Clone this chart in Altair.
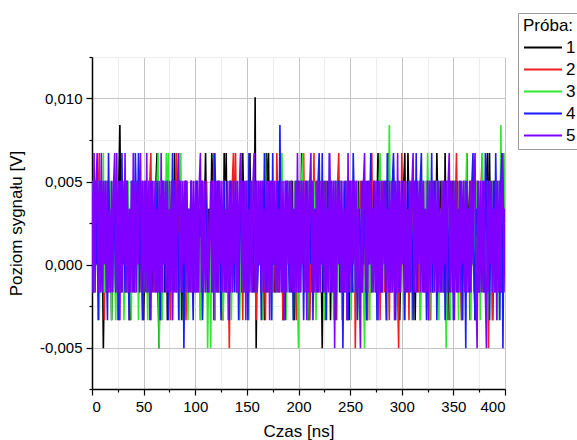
import altair as alt
import pandas as pd

# Digitiser step (one quantisation level) in volts and sampling interval in ns
LSB_V = 0.00168
SAMPLE_NS = 1.0

probe_names = ["1", "2", "3", "4", "5"]
probe_colors = ["#000000", "#f21d1d", "#2ee82e", "#1a1aff", "#8000ff"]

# Recorded samples of each probe, in digitiser levels (20 samples per row)
levels_1 = [
    1, 3, -1, 2, 0, 3, 1, -1, 2, 0, 1, -3, 0, 2, -1, 3, 1, 0, 2, -2,
    0, 3, 1, -1, 2, 0, 3, 5, 1, -1, 2, 0, 1, 3, -1, 2, 0, -2, 1, 3,
    0, 2, -1, 1, 3, 0, -1, 2, 1, 3, -2, 0, 2, -1, 1, 3, 0, 2, -1, 1,
    2, 0, 3, 4, -1, -3, 1, 2, 0, 3, -1, 1, 2, -2, 0, 3, 1, -1, 2, 0,
    4, 1, -1, 2, 0, 3, 1, -2, 2, 0, 1, 3, -1, 0, 2, 1, 3, -1, 0, 2,
    1, -1, 3, 0, 2, 1, -1, 3, 0, 2, 4, 1, 0, 2, -1, 1, 4, 3, 0, -2,
    2, 0, 3, -1, 1, 2, 0, -2, 4, 1, 4, -1, 2, 0, 3, 1, -1, 2, 0, 3,
    -1, 1, 2, 0, 3, -1, 4, 2, 0, 1, 3, -1, 2, 4, 0, 1, 3, -1, 6, -3,
    1, 2, 0, 3, -1, 2, 1, -2, 0, 4, 2, 4, -1, 1, 3, 0, 2, -1, 1, 3,
    0, -1, 2, 1, 3, -2, 0, 2, -1, 3, 1, 0, 2, -1, 3, 1, -2, 0, 2, 1,
    3, -1, 0, 4, 2, 1, -1, 3, 0, 2, -2, 1, 3, 0, -1, 2, 1, 3, 0, -1,
    2, 1, 0, -3, 2, 3, 1, -1, 0, 2, 3, -2, 1, 0, 2, -1, 3, 1, 0, 2,
    -1, 3, 1, 0, 2, -1, 1, 3, 0, -2, 2, 1, 3, -1, 0, 2, 1, -1, 3, 0,
    2, 1, -1, 3, 0, 2, -2, 1, 3, 0, -1, 2, 1, 3, 0, -1, 2, 4, 1, 0,
    3, -1, 2, 0, 1, 3, -2, 4, 0, 2, -1, 1, 3, 0, 2, -1, 1, 3, -2, 0,
    2, 1, 3, 4, -1, 0, 4, 2, 1, -1, 3, 0, 2, -2, 1, 3, 0, -1, 2, 1,
    0, 3, -1, 2, 1, 0, -2, 3, 1, 2, -1, 0, 3, 1, 4, 2, -1, 0, 3, 1,
    2, -1, 4, 0, 3, 1, -2, 2, 0, 3, -1, 1, 2, 0, 3, -1, 2, 1, -2, 0,
    3, 1, -1, 4, 2, 0, 3, -1, 1, 2, 0, -2, 3, 1, -1, 2, 0, 3, 1, -1,
    2, 0, 3, 4, -1, 4, 1, 2, -2, 0, 3, 1, -1, 2, 0, 3, 1, -1, 2, 0,
    1,
]

levels_2 = [
    2, 0, -1, 3, 1, 0, 2, 4, -1, 1, 3, 0, -2, 2, 1, -1, 3, 0, 2, 1,
    -1, 2, 0, 3, 1, -2, 2, 0, -1, 3, 1, 2, 0, -1, 3, 1, -2, 0, 2, 1,
    3, 0, -1, 2, 1, 3, -1, 0, 2, -2, 1, 3, 0, 2, -1, 1, 3, 4, 0, 2,
    -1, 1, 3, 0, 2, -1, 1, -2, 3, 0, 2, 1, -1, 3, 0, 2, -2, 1, 3, 0,
    2, -1, 4, 1, 0, 3, -1, 2, 0, 1, 3, -2, 0, 2, 1, -1, 3, 0, 2, 1,
    -1, 3, 0, 2, 1, -2, 3, 0, 1, 2, -1, 3, 1, 0, 2, -1, 3, 0, 4, 1,
    2, 0, -1, 3, 1, 2, -2, 0, 3, 1, -1, 2, 0, -3, 1, 2, 3, 4, 0, 4,
    1, -1, 2, 0, 3, 1, -2, 2, 0, 3, -1, 1, 2, 0, 3, -1, 1, 2, 0, -2,
    3, 1, 0, 2, -1, 3, 1, 0, -2, 2, 3, -1, 1, 0, 2, 3, -1, 1, 0, 4,
    2, -1, 1, 3, 0, -2, 2, 1, 3, -1, 0, 2, 1, 3, 0, -1, 2, 1, -2, 3,
    0, 2, -1, 1, 3, 4, 0, 2, -1, 1, 3, -2, 0, 2, 1, 4, -1, 3, 0, 2,
    1, -1, 3, 0, 2, 1, -2, 3, 0, 1, 2, -1, 3, 0, 2, 1, -1, -2, 3, 4,
    0, 2, 1, -1, 3, 0, 2, -2, 1, 3, 0, -1, 2, 1, 3, -3, 0, 2, -1, 1,
    3, 0, 2, -1, 1, 3, 0, -2, 2, 1, -1, 4, 0, 2, 3, 1, -1, 0, 2, -2,
    1, 3, 0, -1, 2, 1, 3, 0, -2, 2, 1, -1, 3, 0, 2, 1, -1, -3, 2, 0,
    4, 1, -1, 3, 0, 2, 1, -2, 3, 0, 2, -1, 1, 3, 0, 2, -1, 1, -2, 3,
    0, 2, 1, -1, 3, 0, 2, 1, -2, 3, 0, -1, 2, 1, 3, 0, -1, 2, 1, 3,
    -1, 0, 2, 1, -2, 3, 0, 2, 1, -1, 3, 0, 2, 4, 1, -1, 3, 0, -2, 2,
    1, 3, 0, -1, 2, 1, -2, 3, 0, 2, -1, 1, 3, 0, 2, -1, 1, 3, 4, 0,
    2, -1, 1, 3, -3, 0, 2, 1, -2, 3, 0, -1, 2, 1, 3, 0, -1, 2, 1, 3,
    0,
]

levels_3 = [
    0, 3, 1, -1, 2, 0, 3, -2, 1, 2, 0, 4, -1, 3, 1, 0, 2, -1, 3, -2,
    1, 2, 0, -2, 3, 1, -1, 2, 0, 3, 1, -2, 0, 2, -1, 3, 1, 0, -2, 2,
    1, 3, -1, 0, 2, -2, 1, 3, 0, 2, -1, 1, 3, 0, -2, 2, 1, -1, 3, 0,
    2, 1, -1, 3, 4, -3, 1, 2, -2, 0, 3, 1, 4, 2, 4, 0, -1, 2, -2, 1,
    3, 0, 2, -1, 1, -2, 4, 0, 2, 1, -1, 3, 0, -2, 2, 1, 3, -1, 0, 2,
    1, 3, -1, 0, 2, -2, 1, 3, 0, 2, -1, 1, -3, 0, 1, -3, 2, 3, 0, -2,
    2, 1, 0, 3, -1, 2, 1, -2, 0, 3, 1, -1, 2, 0, 3, -2, 1, 2, 0, 3,
    -1, 1, 2, -2, 0, 3, 1, -1, 2, 0, 3, 1, -2, 2, 0, -1, 3, 1, 0, 2,
    -1, 3, 0, 2, 1, -2, 3, 0, 4, 1, -1, 2, 0, 3, -2, 1, 2, 0, 3, -1,
    1, 2, 0, 3, 4, -1, 1, 2, -2, 0, 3, 1, -1, 2, 0, -2, 3, 1, 0, -1,
    -3, 2, 1, 3, 4, 0, -1, 2, 1, -2, 3, 0, 2, 1, -1, 3, 0, -2, 2, 1,
    3, 0, -1, 2, 1, -2, 3, 0, 2, 1, -1, 3, 0, 2, -2, 1, 3, 0, -1, 2,
    1, 3, -2, 0, 2, 1, -1, 3, 0, 2, 1, -2, 3, 0, -1, 2, 1, 3, 0, -2,
    2, 1, 0, -1, -3, 2, 1, 3, 0, -2, 2, 1, -1, 3, 0, 2, 1, -2, 3, 4,
    0, 2, -1, 1, 3, 0, -2, 2, 5, 1, -1, 3, 0, 2, -2, 1, 3, 0, -1, 2,
    1, 3, -2, 0, 2, 1, -1, 3, 0, 2, -2, 1, 3, 0, -1, 2, 1, 3, -2, 0,
    2, 1, -1, 3, 0, 4, 2, -2, 1, 3, 0, -1, 2, 1, 3, 0, -2, 2, 1, -1,
    3, 0, 2, -3, 1, 3, 0, -2, 2, 1, -1, 3, 0, 2, 1, -2, 3, 0, -1, 2,
    1, 3, 0, 4, -1, 2, 1, -2, 3, 0, 2, -1, 1, 3, 0, 2, -2, 1, 4, 0,
    2, -1, 1, 3, 0, -2, 2, 1, 3, -1, 0, 2, 1, -2, 3, 0, 5, 1, -1, 2,
    4,
]

levels_4 = [
    2, -1, 1, 3, 0, 2, -2, 1, 3, 0, -1, 2, 1, 3, 0, -2, 4, 1, -1, 2,
    0, 3, 1, -1, 2, 0, -2, 3, 1, 4, 0, 2, -1, 1, 3, 0, -2, 2, 1, 3,
    -1, 0, 4, 2, 1, 4, -1, 3, 0, -2, 2, 1, 3, 0, -1, 2, 1, -2, 3, 0,
    1, 2, -1, 3, 0, 2, -2, 1, 3, 0, 2, -1, 1, 3, -2, 0, 2, 1, 4, -1,
    3, 0, 2, 1, -2, 3, 0, -1, 2, -3, 1, 3, 0, 2, -1, 1, 3, 0, -2, 2,
    1, 3, 0, -1, 2, 1, 3, -2, 0, 2, 3, 1, -1, 0, 2, 1, 3, -1, 0, 4,
    2, -1, 1, 3, 0, -2, 2, 1, 3, 0, -1, 2, 1, -2, 3, 0, 2, 1, -1, 3,
    0, 2, -2, 1, 4, 0, 3, -1, 2, 1, 0, -2, 4, 1, 3, 0, -1, 2, 1, 3,
    -1, 0, 2, 1, -2, 3, 0, 4, 1, -1, 2, 0, 3, 1, -2, 4, 0, 2, -1, 1,
    3, 0, 5, 1, -1, 2, 0, -2, 3, 1, 2, -1, 0, 3, 1, -2, 2, 0, 3, 1,
    -1, 2, 0, 3, 1, -2, 2, 0, 3, -1, 1, 2, 0, 3, -2, 1, 2, 0, -1, 3,
    4, 1, 0, 4, -1, 2, 1, -2, 3, 0, 4, 2, -1, 1, 3, 0, -2, 2, 1, 3,
    0, -1, 2, -3, 1, 3, 0, 2, -2, 1, 3, 0, -1, 4, 2, 1, 3, -2, 0, 2,
    1, -1, 3, 0, 2, 1, -2, 3, 0, 2, 4, -1, 1, 3, 0, 2, -2, 1, 3, 0,
    -1, 2, 1, 3, 0, -2, 4, 1, 2, -1, 0, 3, 4, 2, -2, 1, 3, 0, -1, 2,
    1, 3, 0, -2, 2, 1, -1, 3, 0, 2, 1, -2, 3, 0, 4, -1, 2, 1, 3, 4,
    0, -1, 2, 1, -2, 3, 0, 2, 1, 4, -1, 3, 0, 2, -2, 1, 3, 0, -1, 2,
    1, 3, -2, 0, 2, 1, -1, 3, 0, 2, -2, 1, 3, 0, -1, 2, 1, 3, 0, -2,
    2, 1, -3, 3, 0, 2, -1, 1, 3, 4, 0, -2, 2, 1, 3, -1, 0, 2, 1, 3,
    -1, 4, 2, 0, 3, -2, 1, 2, 0, 3, -1, 4, 1, 0, 2, -2, 3, 4, -3, 2,
    1,
]

levels_5 = [
    3, -1, 4, -1, 3, 4, -1, 3, -1, 4, -1, 3, 0, 3, -1, 3, -1, 2, -1, 3,
    -1, 3, 4, -1, 4, -1, 3, -2, 3, -1, 3, 0, 4, -1, 3, -1, 2, -1, 3, -1,
    4, -1, 3, -1, 3, 0, 3, 4, -1, 3, -1, 3, -1, 4, -1, 3, -2, 3, -1, 3,
    -1, 3, -1, 2, -1, 3, -1, 4, -1, 3, 0, 3, -1, 3, -1, 2, -1, 3, -2, 3,
    -1, 3, -1, 3, 4, -1, 3, -1, 3, 0, 3, -1, 3, -1, 2, -1, 3, -1, 3, -1,
    3, -1, 3, -1, 3, 4, -1, 3, -1, 3, -1, 0, 2, -1, 1, 3, -1, 3, -2, 3,
    -1, 3, -1, 3, 0, 3, -1, 3, -1, 2, -1, 3, -2, 3, -1, 3, -1, 3, 0, 3,
    -1, 3, -1, 3, 4, -1, 3, -1, 3, -2, 3, -1, 2, -1, 3, -1, 3, 4, -1, 3,
    -1, 3, 0, 3, -1, 3, -1, 2, -1, 3, -1, 3, -2, 3, -1, 3, 0, 3, -1, 3,
    -1, 2, -1, 3, -1, 3, -2, 3, -1, 3, 0, 3, -1, 3, -1, 2, -1, 3, -1, 4,
    -1, 3, -1, 3, 0, 3, -1, 3, -2, 3, -1, 3, 4, -1, 3, -1, 2, -1, 3, -1,
    3, -1, 3, 0, 3, -1, 3, -1, 2, -1, 4, -1, 3, -1, 3, -3, 3, -1, 3, 0,
    3, -1, 3, -1, 2, -1, 3, -2, 4, -1, 3, -1, 3, 0, 3, -1, 3, -1, 2, -1,
    -3, 3, -1, 3, 4, -1, 3, -1, 3, 0, 3, -1, 2, -1, 3, -1, 3, -2, 3, -1,
    3, -1, 3, 0, 3, -1, 2, -1, 3, -1, 3, -1, 3, -2, 3, -1, 4, -1, 3, -1,
    3, 0, 3, -1, 3, -1, 2, -1, 3, -1, 3, 4, -1, 3, -1, 3, 0, 3, -1, 3,
    -1, 3, -1, 2, -1, 3, -2, 3, -1, 3, 0, 3, -1, 3, -1, 3, -1, 2, -1, 3,
    -1, 3, 0, 3, -1, 3, 4, -1, 3, -1, 3, -2, 3, -1, 2, -1, 3, -1, 3, 0,
    3, -1, 3, -1, 2, -1, 3, -1, 3, 0, 3, 4, -1, -3, 3, -1, 3, -1, 3, -1,
    3, -1, -3, 3, -1, 3, 0, 3, -1, 2, -1, 3, -2, 3, -1, 3, -1, 3, 4, -1,
    2,
]

x_ticks = list(range(0, 401, 25))
y_ticks = [-0.0075, -0.005, -0.0025, 0.0, 0.0025, 0.005, 0.0075, 0.01, 0.0125]

FONT = "Liberation Sans"
MINOR_X = "datum.value % 50 !== 0"
MINOR_Y = "abs(datum.value * 200 - round(datum.value * 200)) > 0.25"

frames = []
for name, levels in zip(probe_names, [levels_1, levels_2, levels_3, levels_4, levels_5]):
    frames.append(pd.DataFrame({
        "czas": [i * SAMPLE_NS for i in range(len(levels))],
        "poziom": [lv * LSB_V for lv in levels],
        "proba": name,
    }))

x_axis = alt.Axis(
    values=x_ticks,
    title="Czas [ns]",
    labelExpr=f"{MINOR_X} ? '' : format(datum.value, 'd')",
    gridColor={"condition": {"test": MINOR_X, "value": "#ececec"}, "value": "#c4c4c4"},
    tickSize={"condition": {"test": MINOR_X, "value": 3}, "value": 6},
    labelPadding=4,
    titlePadding=9,
)
y_axis = alt.Axis(
    values=y_ticks,
    title="Poziom sygnału [V]",
    labelExpr=(f"{MINOR_Y} ? '' : (datum.value < 0 ? '-' : '') + "
               "replace(format(abs(datum.value), '.3f'), '.', ',')"),
    gridColor={"condition": {"test": MINOR_Y, "value": "#ececec"}, "value": "#c4c4c4"},
    tickSize={"condition": {"test": MINOR_Y, "value": 3}, "value": 6},
    labelPadding=4,
    titlePadding=14,
)

# Legend swatch: a line drawn from the left edge of the symbol column
# up to just before the label
color = alt.Color(
    "proba:N",
    scale=alt.Scale(domain=probe_names, range=probe_colors),
    legend=alt.Legend(
        title="Próba:",
        orient="none",
        legendX=426,
        legendY=-44,
        symbolType="M-1,0H3",
        symbolSize=361,
        symbolStrokeWidth=2,
        strokeColor="#9a9a9a",
        fillColor="white",
        padding=5,
        labelOffset=22,
        labelFont=FONT,
        labelFontSize=17,
        labelColor="black",
        titleFont=FONT,
        titleFontSize=17,
        titleFontWeight="normal",
        titleColor="black",
        titlePadding=2,
        rowPadding=3,
    ),
)

x_enc = alt.X("czas:Q", scale=alt.Scale(domain=[0, 400], nice=False, zero=False), axis=x_axis)
y_enc = alt.Y("poziom:Q", scale=alt.Scale(domain=[-0.0075, 0.0125], nice=False, zero=False), axis=y_axis)

layers = [
    alt.Chart(f)
    .mark_line(strokeWidth=1.6, strokeJoin="bevel", clip=True)
    .encode(x=x_enc, y=y_enc, color=color)
    for f in frames
]

chart = (
    alt.layer(*layers)
    .properties(
        width=413,
        height=332,
        autosize=alt.AutoSizeParams(type="none"),
        padding={"left": 92, "top": 57, "right": 72, "bottom": 51},
        background="white",
    )
    .configure_view(stroke=None)
    .configure_axis(
        domainColor="black",
        domainWidth=1.5,
        tickColor="black",
        tickWidth=1.2,
        gridWidth=1,
        labelFont=FONT,
        labelFontSize=15,
        labelColor="black",
        titleFont=FONT,
        titleFontSize=17,
        titleFontWeight="normal",
        titleColor="black",
    )
)

chart.save("out.html", embed_options={"renderer": "svg", "actions": False})
